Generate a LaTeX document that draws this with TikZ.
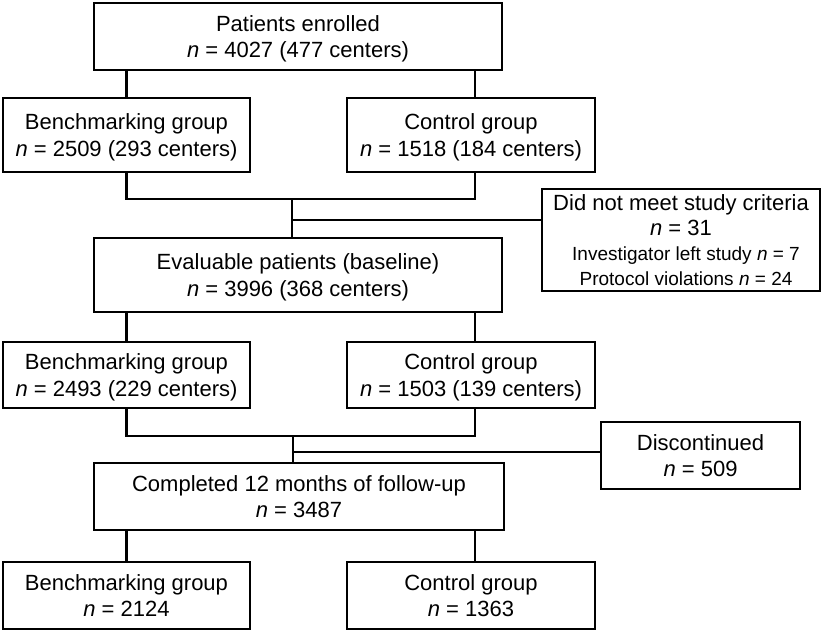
\documentclass[tikz,border=0pt]{standalone}
\usepackage{fontspec}
\setmainfont{Liberation Sans}
\newcommand{\pstrut}{\rule{0pt}{20.4pt}}
\begin{document}
\begin{tikzpicture}[x=1pt,y=-1pt,
  box/.style={draw, line width=2.7pt, inner sep=0pt, align=center, font=\fontsize{22}{26.5}\selectfont},
  conn/.style={line width=2.7pt}]
\useasboundingbox (0,0) rectangle (825,632);
% row 1
\node[box, minimum width=408pt, minimum height=67pt] (top) at (298,36.5) {\pstrut Patients enrolled\\\textit{n} = 4027 (477 centers)};
% row 2
\node[box, minimum width=247pt, minimum height=74pt] (b1) at (126.5,135) {\pstrut Benchmarking group\\\textit{n} = 2509 (293 centers)};
\node[box, minimum width=248pt, minimum height=74pt] (c1) at (471,135) {\pstrut Control group\\\textit{n} = 1518 (184 centers)};
% exclusion
\node[box, minimum width=278pt, minimum height=102pt, font=\fontsize{22}{25}\selectfont] (dnm) at (681,240) {Did not meet study criteria\\\textit{n} = 31\\{\fontsize{19}{25}\selectfont\hspace*{10pt}Investigator left study \textit{n} = 7}\\{\fontsize{19}{25}\selectfont\hspace*{10pt}Protocol violations \textit{n} = 24}};
% evaluable
\node[box, minimum width=408pt, minimum height=74pt] (eval) at (298,275) {\pstrut Evaluable patients (baseline)\\\textit{n} = 3996 (368 centers)};
% row 4
\node[box, minimum width=247pt, minimum height=66pt] (b2) at (126.5,375) {\pstrut Benchmarking group\\\textit{n} = 2493 (229 centers)};
\node[box, minimum width=248pt, minimum height=66pt] (c2) at (471,375) {\pstrut Control group\\\textit{n} = 1503 (139 centers)};
% discontinued
\node[box, minimum width=199pt, minimum height=67pt] (disc) at (700.5,455.5) {Discontinued\\\textit{n} = 509};
% completed
\node[box, minimum width=410pt, minimum height=67pt] (comp) at (299,496.5) {Completed 12 months of follow-up\\\textit{n} = 3487};
% row 6
\node[box, minimum width=247pt, minimum height=67pt] (b3) at (126.5,595.5) {Benchmarking group\\\textit{n} = 2124};
\node[box, minimum width=248pt, minimum height=67pt] (c3) at (471,595.5) {Control group\\\textit{n} = 1363};
% connectors
\coordinate (j1) at (292,199);
\coordinate (s1) at (292,220);
\coordinate (j2) at (293,436);
\coordinate (s2) at (293,452);
\draw[conn] (b1.north) -- (b1.north |- top.south);
\draw[conn] ([xshift=4pt]c1.north) -- ([xshift=4pt]c1.north |- top.south);
\draw[conn] (b1.south) |- (j1) -| ([xshift=4pt]c1.south);
\draw[conn] (j1) -- (j1 |- eval.north);
\draw[conn] (s1) -- (s1 -| dnm.west);
\draw[conn] (b2.north) -- (b2.north |- eval.south);
\draw[conn] ([xshift=4pt]c2.north) -- ([xshift=4pt]c2.north |- eval.south);
\draw[conn] (b2.south) |- (j2) -| ([xshift=4pt]c2.south);
\draw[conn] (j2) -- (j2 |- comp.north);
\draw[conn] (s2) -- (s2 -| disc.west);
\draw[conn] (b3.north) -- (b3.north |- comp.south);
\draw[conn] ([xshift=4pt]c3.north) -- ([xshift=4pt]c3.north |- comp.south);
\end{tikzpicture}
\end{document}
